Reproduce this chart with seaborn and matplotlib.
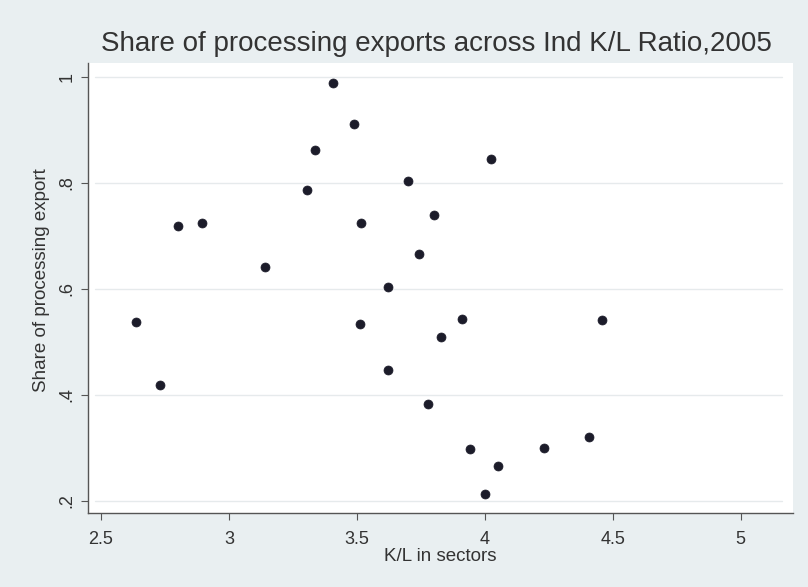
import matplotlib
matplotlib.use("Agg")
import matplotlib.pyplot as plt
import seaborn as sns
import pandas as pd

kl_ratio = [3.406, 3.488, 3.336, 3.305, 3.699, 4.023, 3.801, 2.801, 2.895, 3.516,
            3.141, 3.742, 3.621, 2.637, 2.730, 3.512, 3.910, 3.828, 4.457, 3.621,
            3.777, 3.941, 4.230, 4.406, 4.051, 4.000]
share_proc = [0.989, 0.911, 0.862, 0.787, 0.804, 0.845, 0.740, 0.719, 0.725, 0.725,
              0.642, 0.666, 0.604, 0.538, 0.419, 0.534, 0.543, 0.509, 0.541, 0.447,
              0.383, 0.298, 0.300, 0.321, 0.266, 0.213]
x_ticks = [2.5, 3, 3.5, 4, 4.5, 5]
x_ticklabels = ["2.5", "3", "3.5", "4", "4.5", "5"]
y_ticks = [0.2, 0.4, 0.6, 0.8, 1.0]
y_ticklabels = [".2", ".4", ".6", ".8", "1"]

df = pd.DataFrame({"kl": kl_ratio, "share": share_proc})

sns.set_style("white")
plt.rcParams["font.family"] = ["Liberation Sans", "DejaVu Sans"]

fig = plt.figure(figsize=(8.08, 5.87), dpi=100)
fig.patch.set_facecolor("#e9eff1")
ax = fig.add_axes([88/808, 1-513/587, (793-88)/808, (513-63)/587])
ax.set_facecolor("white")

for yt in y_ticks:
    ax.axhline(yt, xmin=0.01, xmax=0.985, color="#e6eaec", lw=1.0, zorder=0)

sns.scatterplot(data=df, x="kl", y="share", ax=ax, s=42, color="#1c1c2a",
                edgecolor="#1c1c2a", linewidth=0.5, zorder=3)

ax.set_xlim(2.449, 5.205)
ax.set_ylim(0.177, 1.026)
ax.set_xticks(x_ticks)
ax.set_xticklabels(x_ticklabels, fontsize=13, color="#333333")
ax.set_yticks(y_ticks)
ax.set_yticklabels(y_ticklabels, fontsize=13, color="#333333", rotation=90, va="center")
ax.tick_params(axis="x", direction="out", length=5, width=0.8, color="#555555", pad=8,
               bottom=True)
ax.tick_params(axis="y", direction="out", length=5, width=0.8, color="#555555", pad=4,
               left=True)

for side in ["top", "right"]:
    ax.spines[side].set_visible(False)
for side in ["left", "bottom"]:
    ax.spines[side].set_color("#555555")
    ax.spines[side].set_linewidth(1.0)

ax.set_xlabel("K/L in sectors", fontsize=13.5, color="#333333", labelpad=0)
ax.set_ylabel("Share of processing export", fontsize=13.5, color="#333333")
ax.yaxis.set_label_coords(-0.054, 0.518)
fig.text(436/808, 1-44/587, "Share of processing exports across Ind K/L Ratio,2005",
         fontsize=20, color="#333333", ha="center", va="center")

fig.savefig("out.png", dpi=100, facecolor=fig.get_facecolor())
